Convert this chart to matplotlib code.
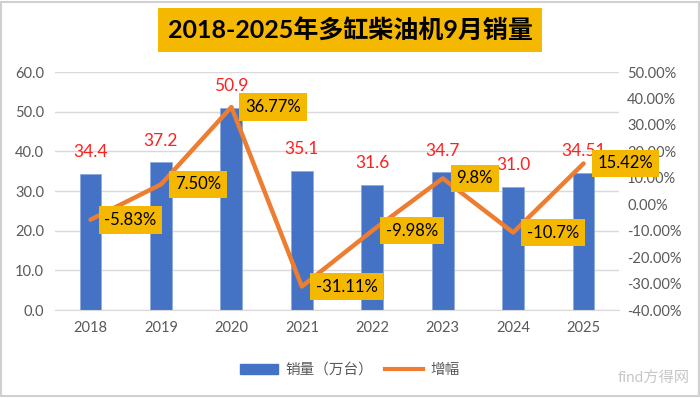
import matplotlib.pyplot as plt
import numpy as np
from matplotlib.patches import Rectangle

plt.rcParams['font.family'] = ['Lato', 'Noto Sans CJK SC', 'DejaVu Sans']

years = ['2018', '2019', '2020', '2021', '2022', '2023', '2024', '2025']
sales = [34.4, 37.2, 50.9, 35.1, 31.6, 34.7, 31.0, 34.51]
sales_labels = ['34.4', '37.2', '50.9', '35.1', '31.6', '34.7', '31.0', '34.51']
growth = [-5.83, 7.50, 36.77, -31.11, -9.98, 9.8, -10.7, 15.42]
growth_labels = ['-5.83%', '7.50%', '36.77%', '-31.11%', '-9.98%', '9.8%', '-10.7%', '15.42%']

bar_color = '#4472C4'
line_color = '#ED7D31'
box_color = '#F5B800'
tick_color = '#595959'

fig = plt.figure(figsize=(7, 3.98), dpi=100)
ax = fig.add_axes([0.079, 0.221, 0.805, 0.598])
x = np.arange(len(years))

ax.bar(x, sales, width=0.31, color=bar_color, edgecolor='#8FAADC', linewidth=0.6, zorder=2)
ax.set_ylim(0, 60)
ax.set_yticks(np.arange(0, 61, 10))
ax.set_yticklabels([f'{v:.1f}' for v in np.arange(0, 61, 10)])
ax.set_xlim(-0.5, len(years) - 0.5)
ax.set_xticks(x)
ax.set_xticklabels(years)
ax.grid(axis='y', color='#D9D9D9', linewidth=1, zorder=0)
ax.set_axisbelow(True)
for s in ['top', 'right', 'left']:
    ax.spines[s].set_visible(False)
ax.spines['bottom'].set_color('#D9D9D9')
ax.tick_params(axis='both', length=0, colors=tick_color, labelsize=10.5, pad=8)

for xi, v, lab in zip(x, sales, sales_labels):
    ax.annotate(lab, (xi, v), xytext=(0, 10), textcoords='offset points',
                ha='center', va='bottom', color='#FF2020', fontsize=12.5, zorder=3)

ax2 = ax.twinx()
ax2.plot(x, growth, color=line_color, linewidth=3.2, zorder=4, solid_capstyle='round')
ax2.set_ylim(-40, 50)
ax2.set_yticks(np.arange(-40, 51, 10))
ax2.set_yticklabels([f'{v:.2f}%' for v in np.arange(-40, 51, 10)])
for s in ax2.spines.values():
    s.set_visible(False)
ax2.tick_params(axis='y', length=0, colors=tick_color, labelsize=10.5, pad=6)

for xi, v, lab in zip(x, growth, growth_labels):
    ax2.annotate(lab, (xi, v), xytext=(10, 0), textcoords='offset points',
                 ha='left', va='center', color='black', fontsize=12, zorder=6,
                 bbox=dict(boxstyle='square,pad=0.35', fc=box_color, ec='none'))

# legend
h1 = Rectangle((0, 0), 1, 1, color=bar_color)
h2, = ax2.plot([], [], color=line_color, linewidth=3)
fig.legend([h1, h2], ['销量（万台）', '增幅'], loc='center', bbox_to_anchor=(0.5, 0.07),
           ncol=2, frameon=False, fontsize=10.5, labelcolor=tick_color,
           handlelength=2.6, handleheight=0.6, columnspacing=0.8, handletextpad=0.5)

fig.text(0.5, 0.925, '2018-2025年多缸柴油机9月销量', ha='center', va='center',
         fontsize=18, fontweight='bold', color='black',
         bbox=dict(boxstyle='square,pad=0.4', fc=box_color, ec='none'))

fig.text(0.985, 0.03, 'find方得网', ha='right', va='bottom', fontsize=11,
         color='#B0B0B0', alpha=0.7)

fig.patches.append(Rectangle((0.002, 0.004), 0.996, 0.99, transform=fig.transFigure,
                             fill=False, ec='#D0D0D0', lw=1.5))

fig.savefig('out.png', dpi=100)
